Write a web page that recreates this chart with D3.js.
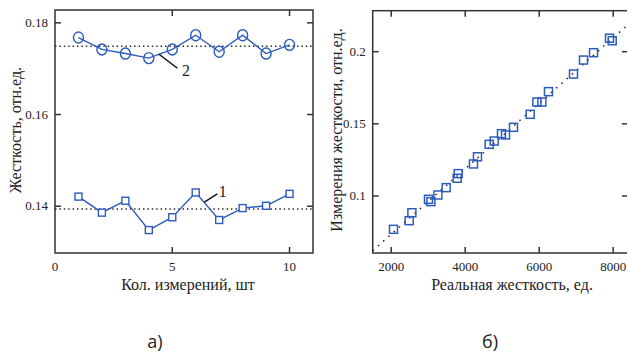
<!DOCTYPE html>
<html>
<head>
<meta charset="utf-8">
<script src="https://cdn.jsdelivr.net/npm/d3@7/dist/d3.min.js"></script>
<style>
  body { margin: 0; background: #fff; }
  svg { display: block; }
</style>
</head>
<body>
<svg width="627" height="359"></svg>
<script>
// --- panel a) data
const measureNo = [1, 2, 3, 4, 5, 6, 7, 8, 9, 10];
const series1 = [0.1421, 0.1386, 0.1412, 0.1348, 0.1376, 0.1430, 0.1370, 0.1396, 0.1401, 0.1427];
const series2 = [0.1768, 0.1742, 0.1733, 0.1723, 0.1742, 0.1773, 0.1737, 0.1773, 0.1733, 0.1752];
const mean1 = 0.1394;
const mean2 = 0.1749;
const aTicksX = [0, 5, 10];
const aTicksY = [0.14, 0.16, 0.18];

// --- panel б) data
const realStiffness = [2062, 2486, 2559, 3008, 3073, 3262, 3486, 3784, 3811, 4224, 4332, 4649, 4784,
  4981, 5089, 5305, 5757, 5938, 6073, 6251, 6927, 7197, 7468, 7900, 7973];
const measuredStiffness = [0.0769, 0.0829, 0.0884, 0.0977, 0.0961, 0.1007, 0.1058, 0.1123, 0.1155,
  0.1222, 0.1272, 0.1358, 0.1381, 0.1432, 0.1423, 0.1476, 0.1566, 0.1651, 0.1651, 0.1723, 0.1845,
  0.1942, 0.1993, 0.2093, 0.2076];
const fitX = [1500, 8400];
const fitY = [0.0621, 0.2187];
const bTicksX = [2000, 4000, 6000, 8000];
const bTicksY = [0.1, 0.15, 0.2];

const blue = '#2c5cbc';
const frame = '#333';
const serif = "'Liberation Serif'";
const svg = d3.select('svg');

// serif text helper
const label = (g, size) => g.append('text')
  .style('font-family', serif)
  .style('font-size', size + 'px')
  .style('fill', '#222');

function drawFrame(g, x, y, tx, ty, fmtY) {
  const [x0, x1] = x.range();
  const [y0, y1] = y.range();
  const tick = 6;
  g.append('rect')
    .attr('x', x0).attr('y', y1)
    .attr('width', x1 - x0).attr('height', y0 - y1)
    .attr('fill', 'none').attr('stroke', frame).attr('stroke-width', 1.5);

  const xt = tx.filter((d) => x(d) > x0 + 2);
  g.selectAll(null).data(xt).join('line')
    .attr('x1', (d) => x(d)).attr('x2', (d) => x(d))
    .attr('y1', y0).attr('y2', y0 - tick)
    .attr('stroke', frame).attr('stroke-width', 1.5);
  g.selectAll(null).data(xt).join('line')
    .attr('x1', (d) => x(d)).attr('x2', (d) => x(d))
    .attr('y1', y1).attr('y2', y1 + tick)
    .attr('stroke', frame).attr('stroke-width', 1.5);
  g.selectAll(null).data(ty).join('line')
    .attr('x1', x0).attr('x2', x0 + tick)
    .attr('y1', (d) => y(d)).attr('y2', (d) => y(d))
    .attr('stroke', frame).attr('stroke-width', 1.5);
  g.selectAll(null).data(ty).join('line')
    .attr('x1', x1).attr('x2', x1 - tick)
    .attr('y1', (d) => y(d)).attr('y2', (d) => y(d))
    .attr('stroke', frame).attr('stroke-width', 1.5);

  tx.forEach((d) => {
    label(g, 13).attr('x', x(d)).attr('y', y0 + 18)
      .attr('text-anchor', 'middle').text(d);
  });
  ty.forEach((d) => {
    label(g, 13).attr('x', x0 - 7).attr('y', y(d) + 4)
      .attr('text-anchor', 'end').text(fmtY(d));
  });
}

// ---------- panel a)
const xa = d3.scaleLinear().domain([0, 11]).range([55, 313]);
const ya = d3.scaleLinear().domain([0.1298, 0.1828]).range([253, 10]);
const ga = svg.append('g');

drawFrame(ga, xa, ya, aTicksX, aTicksY, (d) => d.toFixed(2));

ga.selectAll(null).data([mean1, mean2]).join('line')
  .attr('x1', xa.range()[0]).attr('x2', xa.range()[1])
  .attr('y1', (d) => ya(d)).attr('y2', (d) => ya(d))
  .attr('stroke', '#222').attr('stroke-width', 1.4)
  .attr('stroke-dasharray', '1.4,3');

const linea = d3.line().x((d, i) => xa(measureNo[i])).y((d) => ya(d));
[series1, series2].forEach((s) => {
  ga.append('path').attr('d', linea(s))
    .attr('fill', 'none').attr('stroke', blue).attr('stroke-width', 1.4);
});

ga.selectAll(null).data(series1).join('rect')
  .attr('x', (d, i) => xa(measureNo[i]) - 3.5).attr('y', (d) => ya(d) - 3.5)
  .attr('width', 7).attr('height', 7)
  .attr('fill', '#fff').attr('stroke', blue).attr('stroke-width', 1.4);
ga.selectAll(null).data(series2).join('ellipse')
  .attr('cx', (d, i) => xa(measureNo[i])).attr('cy', (d) => ya(d))
  .attr('rx', 5).attr('ry', 5.5)
  .attr('fill', 'none').attr('stroke', blue).attr('stroke-width', 1.4);

// leaders
const leaders = [
  { from: [4.42, 0.1732], to: [5.22, 0.1701], label: '2', at: [5.42, 0.1685] },
  { from: [6.37, 0.1409], to: [6.92, 0.1427], label: '1', at: [6.98, 0.1421] },
];
leaders.forEach((l) => {
  ga.append('line')
    .attr('x1', xa(l.from[0])).attr('y1', ya(l.from[1]))
    .attr('x2', xa(l.to[0])).attr('y2', ya(l.to[1]))
    .attr('stroke', '#111').attr('stroke-width', 1.5);
  label(ga, 16).attr('x', xa(l.at[0])).attr('y', ya(l.at[1])).text(l.label);
});

label(ga, 16).attr('x', 188).attr('y', 290)
  .attr('text-anchor', 'middle').text('Кол. измерений, шт');
label(ga, 16).attr('transform', 'translate(21,130) rotate(-90)')
  .attr('text-anchor', 'middle').text('Жесткость, отн.ед.');

// ---------- panel б)
const xb = d3.scaleLinear().domain([1500, 8400]).range([372.7, 628]);
const yb = d3.scaleLinear().domain([0.0605, 0.2284]).range([253, 10.7]);
const gb = svg.append('g');

gb.append('clipPath').attr('id', 'clipb').append('rect')
  .attr('x', 372.7).attr('y', 10.7).attr('width', 255.3).attr('height', 242.3);

drawFrame(gb, xb, yb, bTicksX, bTicksY, (d) => d3.format('~g')(d));

gb.append('line')
  .attr('clip-path', 'url(#clipb)')
  .attr('x1', xb(fitX[0])).attr('y1', yb(fitY[0]))
  .attr('x2', xb(fitX[1])).attr('y2', yb(fitY[1]))
  .attr('stroke', '#222').attr('stroke-width', 1.5)
  .attr('stroke-dasharray', '1.5,5.5');

gb.selectAll(null).data(measuredStiffness).join('rect')
  .attr('x', (d, i) => xb(realStiffness[i]) - 4).attr('y', (d) => yb(d) - 4)
  .attr('width', 8).attr('height', 8)
  .attr('fill', 'none').attr('stroke', blue).attr('stroke-width', 1.5);

label(gb, 16).attr('x', 512).attr('y', 290)
  .attr('text-anchor', 'middle').text('Реальная жесткость, ед.');
label(gb, 16).attr('transform', 'translate(342,130) rotate(-90)')
  .attr('text-anchor', 'middle').text('Измерения жесткости, отн.ед.');

// captions
['а)', 'б)'].forEach((t, i) => {
  svg.append('text')
    .attr('x', i ? 490 : 155).attr('y', 348).attr('text-anchor', 'middle')
    .style('font-family', "'Open Sans'").style('font-size', '18px').style('fill', '#222')
    .text(t);
});
</script>
</body>
</html>
